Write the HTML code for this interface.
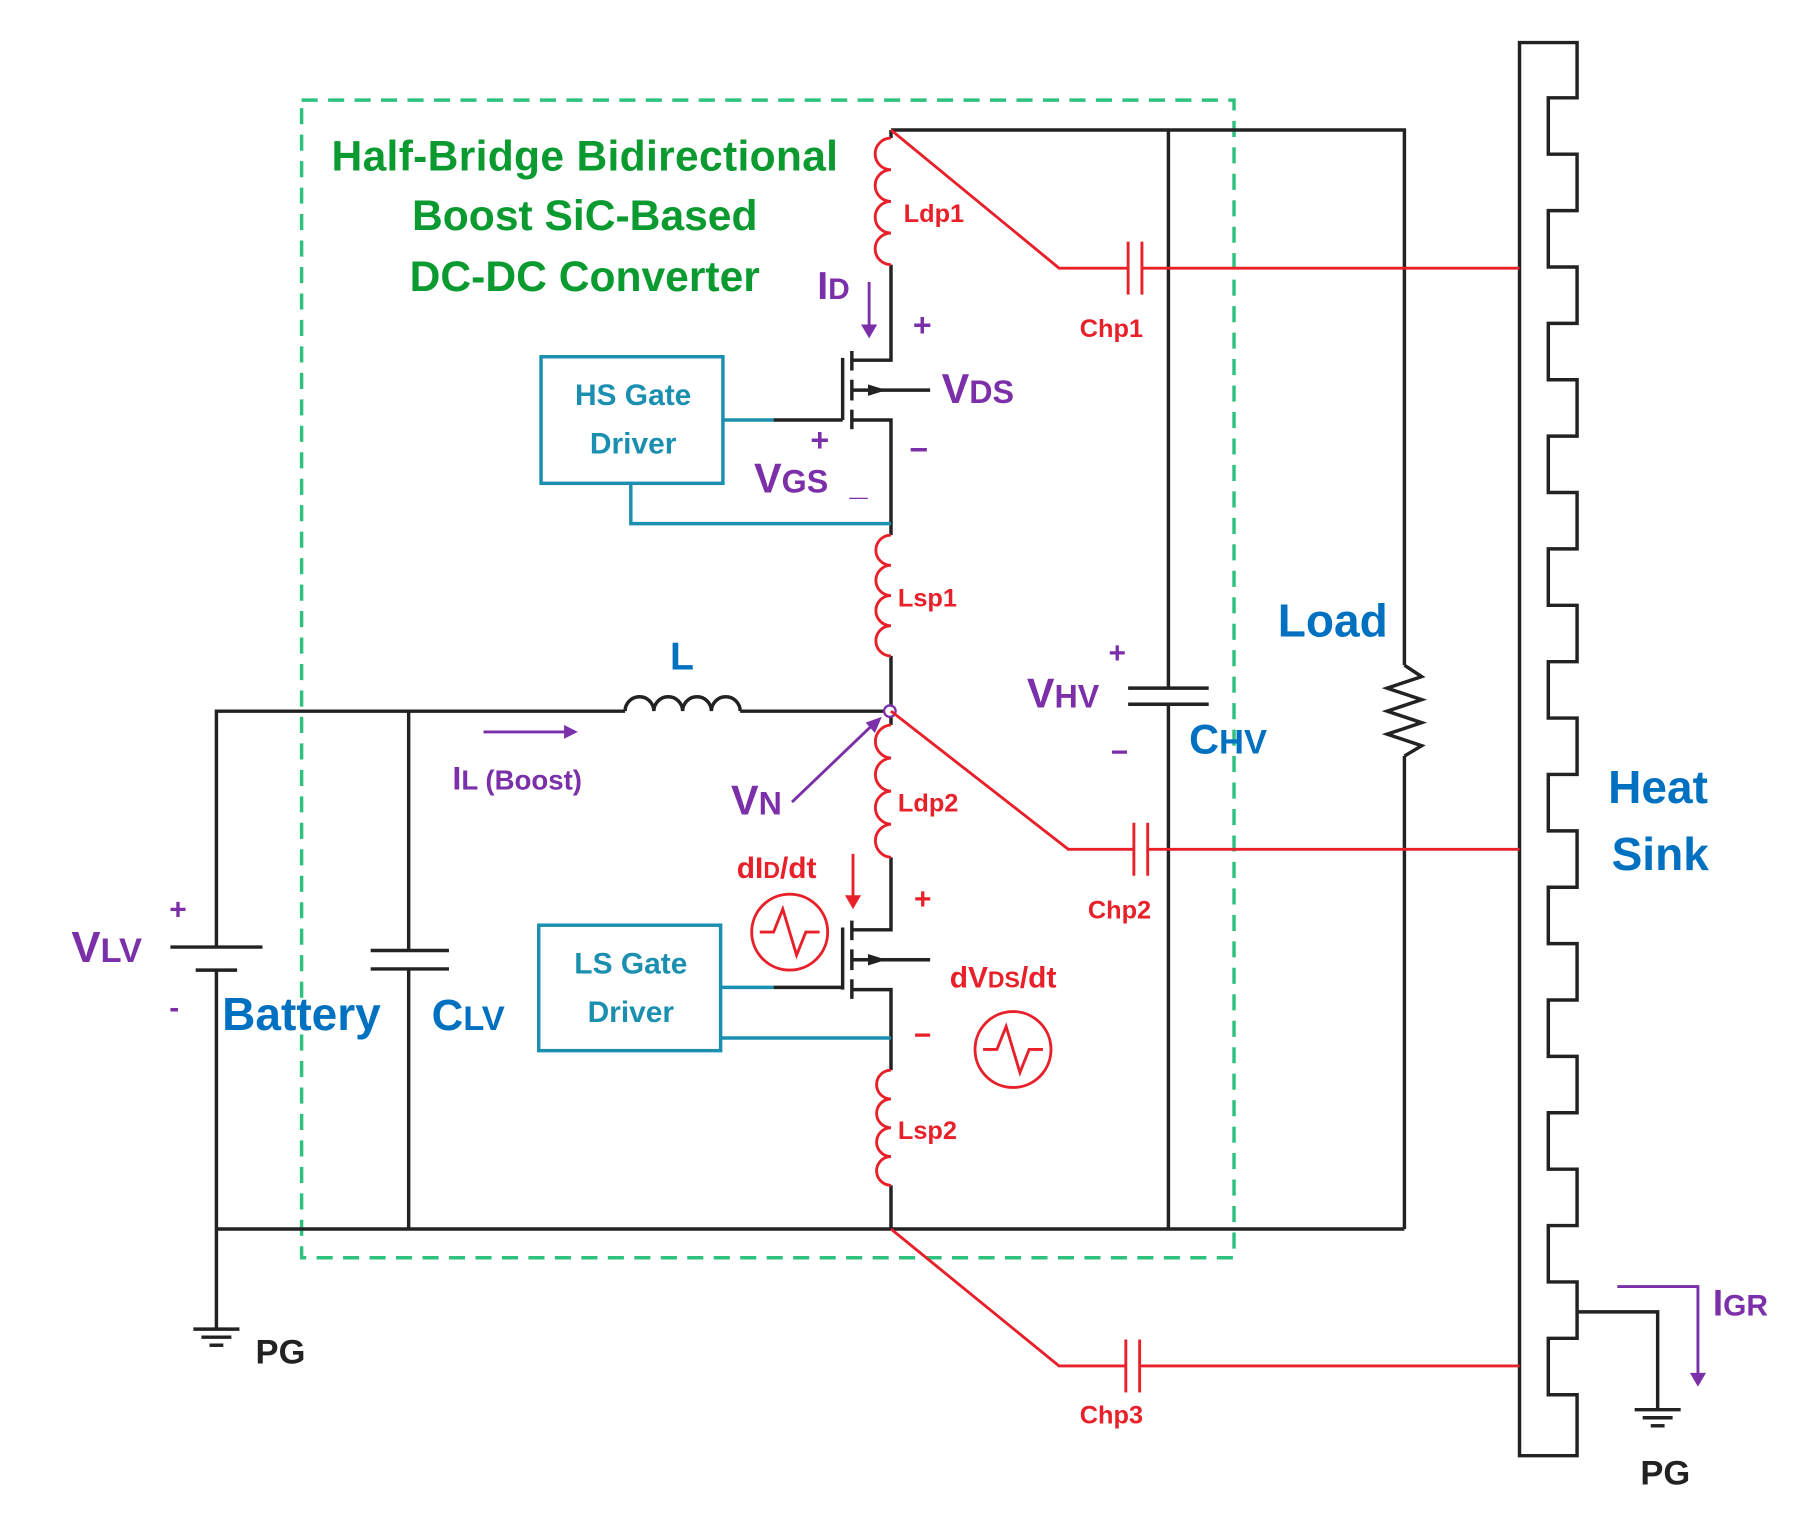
<!DOCTYPE html>
<html><head><meta charset="utf-8"><style>
html,body{margin:0;padding:0;background:#fff}
svg{display:block}
text{font-family:"Liberation Sans",sans-serif;font-weight:bold}
</style></head><body>
<svg width="1805" height="1519" viewBox="0 0 1568 1320" preserveAspectRatio="none" xmlns="http://www.w3.org/2000/svg">
<rect x="262" y="87" width="810" height="1006" fill="none" stroke="#2ec27e" stroke-width="3" stroke-dasharray="14,9"/>
<g fill="none" stroke="#222" stroke-width="3">
<polyline points="774,113 1220,113 1220,578"/>
<polyline points="1220,578 1235,588 1205,598 1235,608 1205,618 1235,628 1205,638 1235,648 1220,657"/>
<line x1="1220" y1="657" x2="1220" y2="1068"/>
<line x1="1015" y1="113" x2="1015" y2="598"/>
<line x1="980" y1="598" x2="1050" y2="598"/><line x1="980" y1="612" x2="1050" y2="612"/>
<line x1="1015" y1="612" x2="1015" y2="1068"/>
<line x1="188" y1="1068" x2="1220" y2="1068"/>
<polyline points="188,823 188,618 543,618"/>
<path d="M543,618 a12.5,12.5 0 0 1 25,0 a12.5,12.5 0 0 1 25,0 a12.5,12.5 0 0 1 25,0 a12.5,12.5 0 0 1 25,0"/>
<line x1="643" y1="618" x2="770" y2="618"/>
<line x1="148" y1="823" x2="228" y2="823"/><line x1="170" y1="843" x2="206" y2="843"/>
<line x1="188" y1="843" x2="188" y2="1155"/>
<line x1="168" y1="1155" x2="208" y2="1155"/><line x1="175" y1="1162" x2="201" y2="1162"/><line x1="182" y1="1169" x2="194" y2="1169"/>
<line x1="355" y1="618" x2="355" y2="826"/>
<line x1="322" y1="826" x2="390" y2="826"/><line x1="322" y1="842" x2="390" y2="842"/>
<line x1="355" y1="842" x2="355" y2="1068"/>
<line x1="774" y1="113" x2="774" y2="120"/>
<polyline points="774,230 774,313 741,313"/>
<polyline points="741,365 774,365 774,465"/>
<line x1="774" y1="570" x2="774" y2="630"/>
<polyline points="774,745 774,808 741,808"/>
<polyline points="741,860 774,860 774,930"/>
<line x1="774" y1="1030" x2="774" y2="1068"/>
<line x1="732" y1="311" x2="732" y2="365"/>
<line x1="740" y1="305" x2="740" y2="322"/><line x1="740" y1="330" x2="740" y2="348"/><line x1="740" y1="356" x2="740" y2="373"/>
<line x1="672" y1="365" x2="732" y2="365"/>
<line x1="741" y1="339" x2="808" y2="339"/>
<line x1="732" y1="806" x2="732" y2="860"/>
<line x1="740" y1="800" x2="740" y2="817"/><line x1="740" y1="825" x2="740" y2="843"/><line x1="740" y1="851" x2="740" y2="868"/>
<line x1="672" y1="858" x2="732" y2="858"/>
<line x1="741" y1="834" x2="808" y2="834"/>
<path d="M1320,37 L1370,37 L1370,85 L1345,85 L1345,134 L1370,134 L1370,183 L1345,183 L1345,232 L1370,232 L1370,281 L1345,281 L1345,330 L1370,330 L1370,379 L1345,379 L1345,428 L1370,428 L1370,477 L1345,477 L1345,526 L1370,526 L1370,575 L1345,575 L1345,624 L1370,624 L1370,673 L1345,673 L1345,722 L1370,722 L1370,771 L1345,771 L1345,820 L1370,820 L1370,869 L1345,869 L1345,918 L1370,918 L1370,967 L1345,967 L1345,1016 L1370,1016 L1370,1065 L1345,1065 L1345,1114 L1370,1114 L1370,1163 L1345,1163 L1345,1212 L1370,1212 L1370,1265 L1320,1265 Z"/>
<polyline points="1370,1140 1440,1140 1440,1225"/>
<line x1="1420" y1="1225" x2="1460" y2="1225"/><line x1="1427" y1="1232" x2="1453" y2="1232"/><line x1="1434" y1="1239" x2="1446" y2="1239"/>
</g>
<polygon points="754,334 770,339 754,344" fill="#222"/>
<polygon points="754,829 770,834 754,839" fill="#222"/>
<circle cx="773" cy="618" r="5" fill="#fff" stroke="#7b2fa8" stroke-width="2"/>
<g fill="none" stroke="#1a8fb0" stroke-width="3">
<rect x="470" y="310" width="158" height="110"/>
<rect x="468" y="804" width="158" height="109"/>
<line x1="628" y1="365" x2="672" y2="365"/>
<polyline points="548,420 548,455 774,455"/>
<line x1="626" y1="858" x2="672" y2="858"/>
<line x1="626" y1="902" x2="774" y2="902"/>
</g>
<g fill="none" stroke="#e8202a" stroke-width="2.5">
<path d="M774,120 a13.75,13.75 0 0 0 0,27.5 a13.75,13.75 0 0 0 0,27.5 a13.75,13.75 0 0 0 0,27.5 a13.75,13.75 0 0 0 0,27.5"/>
<path d="M774,465 a13.1,13.1 0 0 0 0,26.25 a13.1,13.1 0 0 0 0,26.25 a13.1,13.1 0 0 0 0,26.25 a13.1,13.1 0 0 0 0,26.25"/>
<path d="M774,630 a14.4,14.4 0 0 0 0,28.75 a14.4,14.4 0 0 0 0,28.75 a14.4,14.4 0 0 0 0,28.75 a14.4,14.4 0 0 0 0,28.75"/>
<path d="M774,930 a12.5,12.5 0 0 0 0,25 a12.5,12.5 0 0 0 0,25 a12.5,12.5 0 0 0 0,25 a12.5,12.5 0 0 0 0,25"/>
<polyline points="774,113 920,233 980,233"/><line x1="980" y1="210" x2="980" y2="256"/><line x1="992" y1="210" x2="992" y2="256"/><line x1="992" y1="233" x2="1320" y2="233"/>
<polyline points="774,618 928,738 985,738"/><line x1="985" y1="715" x2="985" y2="761"/><line x1="997" y1="715" x2="997" y2="761"/><line x1="997" y1="738" x2="1320" y2="738"/>
<polyline points="774,1068 920,1187 978,1187"/><line x1="978" y1="1164" x2="978" y2="1210"/><line x1="990" y1="1164" x2="990" y2="1210"/><line x1="990" y1="1187" x2="1320" y2="1187"/>
<circle cx="686" cy="810" r="33"/>
<path d="M660,810 L672,810 L680,790 L692,830 L700,810 L712,810"/>
<circle cx="880" cy="912" r="33"/>
<path d="M854,912 L866,912 L874,892 L886,932 L894,912 L906,912"/>
<line x1="741" y1="742" x2="741" y2="780"/>
</g>
<polygon points="734,778 748,778 741,790" fill="#e8202a"/>
<g stroke="#7b2fa8" stroke-width="2.5" fill="none">
<line x1="755" y1="245" x2="755" y2="284"/>
<line x1="420" y1="636" x2="492" y2="636"/>
<line x1="688" y1="697" x2="760" y2="628"/>
<polyline points="1405,1118 1475,1118 1475,1195"/>
</g>
<polygon points="748,282 762,282 755,294" fill="#7b2fa8"/>
<polygon points="490,630 502,636 490,642" fill="#7b2fa8"/>
<polygon points="752,628 766,623 760,637" fill="#7b2fa8"/>
<polygon points="1468,1193 1482,1193 1475,1205" fill="#7b2fa8"/>
<g fill="#0a9a30" font-size="37" text-anchor="middle">
<text x="508" y="148" textLength="440">Half-Bridge Bidirectional</text>
<text x="508" y="200">Boost SiC-Based</text>
<text x="508" y="253">DC-DC Converter</text>
</g>
<g fill="#e8202a" font-size="22">
<text x="785" y="193">Ldp1</text><text x="938" y="293">Chp1</text>
<text x="780" y="527">Lsp1</text><text x="780" y="705">Ldp2</text>
<text x="945" y="798">Chp2</text><text x="780" y="990">Lsp2</text>
<text x="938" y="1237">Chp3</text>
<text x="640" y="763" font-size="26">dI<tspan font-size="20">D</tspan>/dt</text>
<text x="825" y="858" font-size="26">dV<tspan font-size="20">DS</tspan>/dt</text>
<text x="794" y="790" font-size="26">+</text><text x="794" y="908" font-size="26">−</text>
</g>
<g fill="#7b2fa8">
<text x="710" y="260" font-size="34">I<tspan font-size="26">D</tspan></text>
<text x="793" y="292" font-size="28">+</text>
<text x="818" y="350" font-size="36">V<tspan font-size="28">DS</tspan></text>
<text x="790" y="400" font-size="28">−</text>
<text x="704" y="392" font-size="28">+</text>
<text x="655" y="428" font-size="36">V<tspan font-size="28">GS</tspan></text>
<text x="738" y="430" font-size="28">_</text>
<text x="393" y="686" font-size="28">I<tspan font-size="24">L (Boost)</tspan></text>
<text x="635" y="708" font-size="36">V<tspan font-size="28">N</tspan></text>
<text x="892" y="615" font-size="36">V<tspan font-size="28">HV</tspan></text>
<text x="963" y="576" font-size="26">+</text><text x="965" y="662" font-size="26">−</text>
<text x="62" y="836" font-size="38">V<tspan font-size="30">LV</tspan></text>
<text x="147" y="799" font-size="26">+</text><text x="147" y="884" font-size="26">-</text>
<text x="1488" y="1143" font-size="32">I<tspan font-size="26">GR</tspan></text>
</g>
<g fill="#1a8fb0" font-size="26" text-anchor="middle" font-weight="normal">
<text x="550" y="352">HS Gate</text><text x="550" y="394">Driver</text>
<text x="548" y="846">LS Gate</text><text x="548" y="888">Driver</text>
</g>
<g fill="#0070c0">
<text x="582" y="582" font-size="34">L</text>
<text x="1033" y="655" font-size="36">C<tspan font-size="30">HV</tspan></text>
<text x="1110" y="553" font-size="40">Load</text>
<text x="1397" y="698" font-size="40">Heat</text>
<text x="1400" y="756" font-size="40">Sink</text>
<text x="193" y="895" font-size="40">Battery</text>
<text x="375" y="895" font-size="38">C<tspan font-size="30">LV</tspan></text>
</g>
<g fill="#222" font-size="30">
<text x="222" y="1185">PG</text><text x="1425" y="1290">PG</text>
</g>
</svg>
</body></html>
